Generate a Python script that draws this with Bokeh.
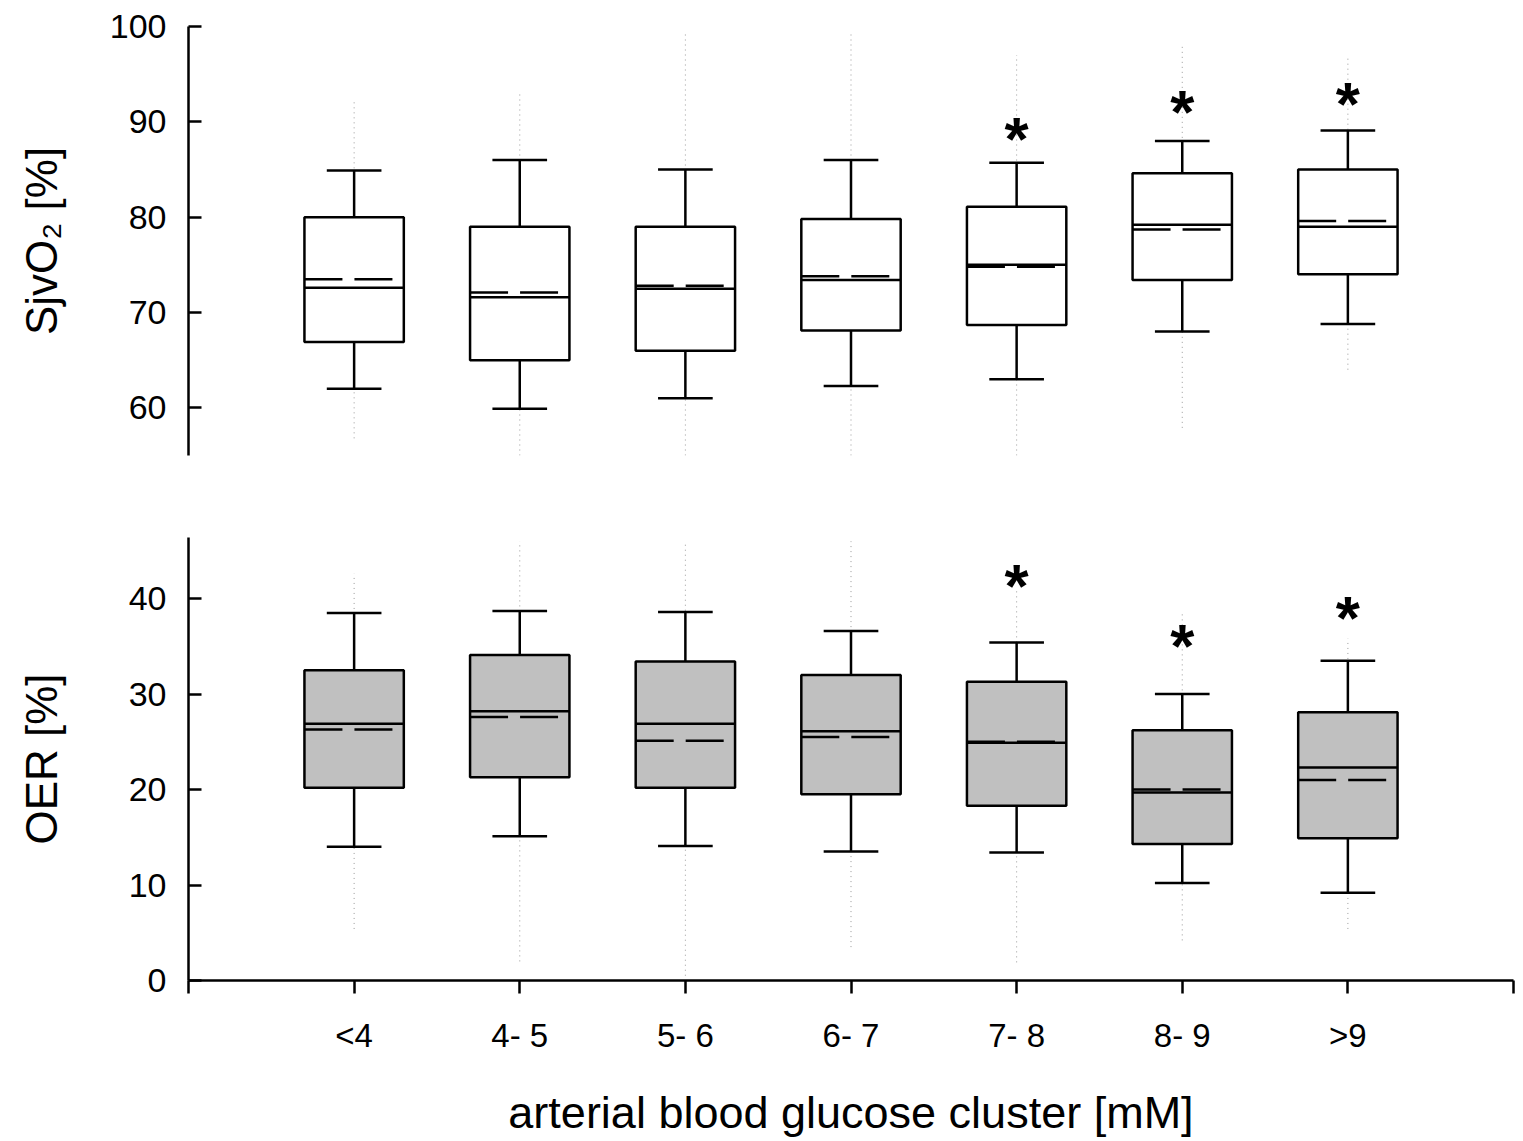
import numpy as np
from bokeh.plotting import figure
from bokeh.layouts import column
from bokeh.models import FixedTicker, ColumnDataSource, Range1d
from bokeh.core.properties import value
from bokeh.embed import file_html
from bokeh.resources import INLINE

# ---------------- data ----------------
categories = ["<4", "4- 5", "5- 6", "6- 7", "7- 8", "8- 9", ">9"]
positions = [1, 2, 3, 4, 5, 6, 7]

# SjvO2 [%]
sjv_whisk_low = [62.0, 59.9, 61.0, 62.3, 63.0, 68.0, 68.8]
sjv_q1 = [66.9, 65.0, 66.0, 68.1, 68.7, 73.4, 74.0]
sjv_median = [72.6, 71.6, 72.5, 73.4, 75.0, 79.2, 79.0]
sjv_mean = [73.5, 72.1, 72.8, 73.8, 74.8, 78.7, 79.6]
sjv_q3 = [80.0, 79.0, 79.0, 79.8, 81.1, 84.6, 85.0]
sjv_whisk_high = [84.9, 86.0, 85.0, 86.0, 85.7, 88.0, 89.1]
sjv_data_min = [56.8, 55.0, 55.0, 55.0, 55.0, 57.9, 64.0]
sjv_data_max = [92.2, 93.0, 99.3, 99.3, 97.0, 98.0, 97.0]
sjv_star_pos = [5, 6, 7]
sjv_star_y = [89.1, 91.9, 92.8]

# OER [%]
oer_whisk_low = [14.0, 15.1, 14.1, 13.5, 13.4, 10.2, 9.2]
oer_q1 = [20.2, 21.3, 20.2, 19.5, 18.3, 14.3, 14.9]
oer_median = [26.9, 28.2, 26.9, 26.1, 24.9, 19.7, 22.3]
oer_mean = [26.3, 27.6, 25.1, 25.5, 25.0, 20.0, 21.0]
oer_q3 = [32.5, 34.1, 33.4, 32.0, 31.3, 26.2, 28.1]
oer_whisk_high = [38.5, 38.7, 38.6, 36.6, 35.4, 30.0, 33.5]
oer_data_min = [5.4, 2.0, 0.5, 3.5, 1.9, 4.2, 5.4]
oer_data_max = [42.6, 46.0, 46.0, 46.0, 40.8, 38.7, 35.8]
oer_star_pos = [5, 6, 7]
oer_star_y = [42.2, 35.9, 38.9]

sjv_ticks = [60, 70, 80, 90, 100]
oer_ticks = [0, 10, 20, 30, 40]

FONT = "Liberation Sans"
BOX_W = 0.6
CAP_W = 0.33
LW = 2.5


def style_yaxis(p, ticks, label, label_standoff):
    ax = p.yaxis[0]
    ax.ticker = FixedTicker(ticks=ticks)
    ax.axis_label = label
    ax.axis_line_width = LW
    ax.axis_line_color = "black"
    ax.major_tick_line_width = LW
    ax.major_tick_line_color = "black"
    ax.major_tick_in = 13
    ax.major_tick_out = 0
    ax.minor_tick_line_color = None
    ax.major_label_text_font = FONT
    ax.major_label_text_font_size = "34px"
    ax.major_label_text_color = "black"
    ax.major_label_standoff = 22
    ax.axis_label_text_font = FONT
    ax.axis_label_text_font_size = "44px"
    ax.axis_label_text_font_style = "normal"
    ax.axis_label_text_color = "black"
    ax.axis_label_standoff = label_standoff


def draw_boxes(p, lo, q1, med, mean, q3, hi, dmin, dmax, fill, star_pos, star_y):
    x = np.array(positions, dtype=float)
    src = ColumnDataSource(dict(
        x=x, left=x - BOX_W / 2, right=x + BOX_W / 2,
        cl=x - CAP_W / 2, cr=x + CAP_W / 2,
        lo=lo, q1=q1, med=med, mean=mean, q3=q3, hi=hi, dmin=dmin, dmax=dmax,
    ))
    # faint dotted data spread
    p.segment(x0="x", x1="x", y0="dmin", y1="dmax", source=src,
              line_color="#7a7a7a", line_width=1, line_dash="1 4", line_alpha=0.75)
    # whiskers
    p.segment(x0="x", x1="x", y0="lo", y1="q1", source=src, line_color="black", line_width=LW)
    p.segment(x0="x", x1="x", y0="q3", y1="hi", source=src, line_color="black", line_width=LW)
    p.segment(x0="cl", x1="cr", y0="lo", y1="lo", source=src, line_color="black", line_width=LW)
    p.segment(x0="cl", x1="cr", y0="hi", y1="hi", source=src, line_color="black", line_width=LW)
    # boxes
    p.quad(left="left", right="right", bottom="q1", top="q3", source=src,
           fill_color=fill, line_color="black", line_width=LW)
    # median (solid) and mean (dashed)
    p.segment(x0="left", x1="right", y0="med", y1="med", source=src,
              line_color="black", line_width=LW)
    p.segment(x0="left", x1="right", y0="mean", y1="mean", source=src,
              line_color="black", line_width=LW, line_dash="38 12")
    # significance stars
    p.text(x=star_pos, y=star_y, text=["*"] * len(star_pos),
           text_font=value(FONT), text_font_size="62px", text_font_style="bold",
           text_align="center", text_baseline="alphabetic", y_offset=8,
           text_color="black")


# ---------------- top panel ----------------
p1 = figure(width=1523, height=470, x_range=Range1d(0, 8), y_range=Range1d(55, 100),
            x_axis_type=None, output_backend="svg", toolbar_location=None,
            min_border_left=188, min_border_right=10, min_border_top=26,
            min_border_bottom=15)
p1.outline_line_color = None
p1.grid.visible = False
p1.background_fill_color = "white"
p1.border_fill_color = "white"
style_yaxis(p1, sjv_ticks, "SjvO₂ [%]", 41)
draw_boxes(p1, sjv_whisk_low, sjv_q1, sjv_median, sjv_mean, sjv_q3, sjv_whisk_high,
           sjv_data_min, sjv_data_max, "white", sjv_star_pos, sjv_star_y)

# ---------------- bottom panel ----------------
p2 = figure(width=1523, height=671, x_range=Range1d(0, 8), y_range=Range1d(0, 46.4),
            output_backend="svg", toolbar_location=None,
            min_border_left=188, min_border_right=10, min_border_top=67,
            min_border_bottom=161)
p2.outline_line_color = None
p2.grid.visible = False
p2.background_fill_color = "white"
p2.border_fill_color = "white"
style_yaxis(p2, oer_ticks, "OER [%]", 60)
draw_boxes(p2, oer_whisk_low, oer_q1, oer_median, oer_mean, oer_q3, oer_whisk_high,
           oer_data_min, oer_data_max, "#c0c0c0", oer_star_pos, oer_star_y)

xa = p2.xaxis[0]
xa.ticker = FixedTicker(ticks=list(range(0, 9)))
overrides = {0: "", 8: ""}
for pos, cat in zip(positions, categories):
    overrides[pos] = cat
xa.major_label_overrides = overrides
xa.axis_label = "arterial blood glucose cluster [mM]"
xa.axis_line_width = LW
xa.axis_line_color = "black"
xa.major_tick_line_width = LW
xa.major_tick_line_color = "black"
xa.major_tick_in = 0
xa.major_tick_out = 13
xa.minor_tick_line_color = None
xa.major_label_text_font = FONT
xa.major_label_text_font_size = "33px"
xa.major_label_text_color = "black"
xa.major_label_standoff = 23
xa.axis_label_text_font = FONT
xa.axis_label_text_font_size = "45px"
xa.axis_label_text_font_style = "normal"
xa.axis_label_text_color = "black"
xa.axis_label_standoff = 30

layout = column(p1, p2, spacing=0)

with open("out.html", "w") as f:
    f.write(file_html(layout, INLINE))
